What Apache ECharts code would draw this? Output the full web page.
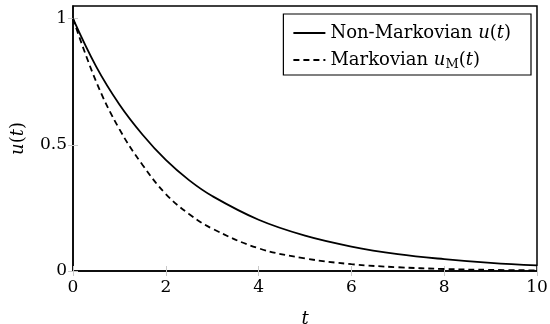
<!DOCTYPE html>
<html>
<head>
<meta charset="utf-8">
<script src="https://cdn.jsdelivr.net/npm/echarts@6/dist/echarts.min.js"></script>
<style>html,body{margin:0;padding:0;background:#fff}#c{width:550px;height:324px}</style>
</head>
<body>
<div id="c"></div>
<script>
var tVals = [0, 0.5, 1, 1.5, 2, 2.5, 3, 4, 5, 6, 7, 8, 9, 10];
var uVals = [1.0, 0.81, 0.66, 0.54, 0.44, 0.36, 0.297, 0.203, 0.14, 0.097, 0.067, 0.047, 0.032, 0.022];
var uMVals = [1.0, 0.75, 0.562, 0.42, 0.305, 0.226, 0.168, 0.09, 0.05, 0.027, 0.015, 0.008, 0.0045, 0.0025];
var xTicks = [0, 2, 4, 6, 8, 10];
var yTicks = [0, 0.5, 1];
var seriesNames = ['Non-Markovian u(t)', 'Markovian uM(t)'];

var FONT = 'DejaVu Serif';
function pairs(xs, ys) { return xs.map(function (x, i) { return [x, ys[i]]; }); }

var chart = echarts.init(document.getElementById('c'), null, { renderer: 'canvas' });
var tickStyle = { show: true, inside: true, length: 5, lineStyle: { color: '#c8c8c8', width: 1 } };
chart.setOption({
  animation: false,
  grid: { left: 73, right: 13, top: 6, bottom: 53, containLabel: false, outerBoundsMode: 'none',
    show: true, borderColor: '#000', borderWidth: 1.5, backgroundColor: 'transparent' },
  xAxis: [{
    type: 'value', min: 0, max: 10, interval: 2, position: 'bottom',
    name: 't', nameLocation: 'middle', nameGap: 39,
    nameTextStyle: { fontFamily: FONT, fontSize: 18, fontStyle: 'italic', color: '#000' },
    axisLine: { show: true, lineStyle: { color: '#000', width: 1.5 } },
    axisTick: tickStyle,
    splitLine: { show: false },
    axisLabel: { fontFamily: FONT, fontSize: 17, color: '#000', margin: 8, showMinLabel: true, showMaxLabel: true }
  }, {
    type: 'value', min: 0, max: 10, interval: 2, position: 'top',
    axisLine: { show: false }, axisTick: tickStyle, axisLabel: { show: false }, splitLine: { show: false }
  }],
  yAxis: [{
    type: 'value', min: 0, max: 1.05, position: 'left',
    name: '{i|u}({i|t})', nameLocation: 'middle', nameGap: 46, nameRotate: 90,
    nameTextStyle: { fontFamily: FONT, fontSize: 18, color: '#000',
      rich: { i: { fontFamily: FONT, fontSize: 18, fontStyle: 'italic', color: '#000' } } },
    axisLine: { show: true, lineStyle: { color: '#000', width: 1.5 } },
    axisTick: { show: true, inside: true, length: 5, lineStyle: { color: '#c8c8c8' }, customValues: yTicks },
    splitLine: { show: false },
    axisLabel: { fontFamily: FONT, fontSize: 17, color: '#000', margin: 6, customValues: yTicks }
  }, {
    type: 'value', min: 0, max: 1.05, position: 'right',
    axisLine: { show: false },
    axisTick: { show: true, inside: true, length: 5, lineStyle: { color: '#c8c8c8' }, customValues: yTicks },
    axisLabel: { show: false }, splitLine: { show: false }
  }],
  legend: {
    orient: 'vertical', right: 19, top: 14,
    backgroundColor: '#fff', borderColor: '#000', borderWidth: 1.2,
    padding: [10, 20, 4, 9], itemGap: 9, itemWidth: 32, itemHeight: 14,
    itemStyle: { opacity: 0 },
    data: seriesNames,
    formatter: function (n) {
      if (n === seriesNames[0]) return 'Non-Markovian {i|u}({i|t})';
      return 'Markovian {i|u}{s|M}({i|t})';
    },
    textStyle: {
      fontFamily: FONT, fontSize: 18, color: '#000',
      rich: {
        i: { fontFamily: FONT, fontSize: 18, fontStyle: 'italic', color: '#000' },
        s: { fontFamily: FONT, fontSize: 13, color: '#000', padding: [9, 0, 0, 0] }
      }
    }
  },
  series: [{
    name: seriesNames[0], type: 'line', smooth: 0.4, symbol: 'none',
    data: pairs(tVals, uVals),
    lineStyle: { color: '#000', width: 1.8, type: 'solid' }, itemStyle: { color: '#000' }
  }, {
    name: seriesNames[1], type: 'line', smooth: 0.4, symbol: 'none',
    data: pairs(tVals, uMVals),
    lineStyle: { color: '#000', width: 1.8, type: [6, 4] }, itemStyle: { color: '#000' }
  }]
});
</script>
</body>
</html>
